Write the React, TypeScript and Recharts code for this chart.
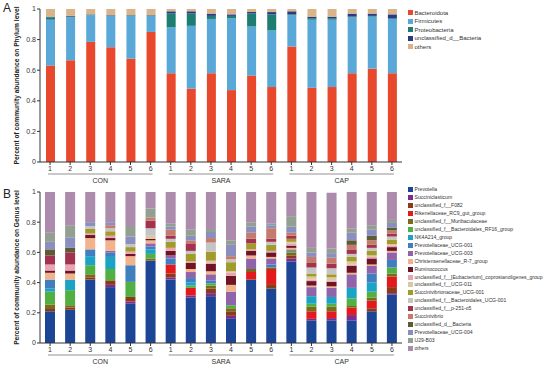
import React from 'react';
import { BarChart, Bar, XAxis, YAxis } from 'recharts';

// ---------- categories ----------
const groups = ['CON', 'SARA', 'CAP'];
const samples = ['1', '2', '3', '4', '5', '6'];
const yTicks = [0, 0.2, 0.4, 0.6, 0.8, 1];

// ---------- Panel A : phylum level ----------
const phylumNames = ['Bacteroidota', 'Firmicutes', 'Proteobacteria', 'unclassified_d__Bacteria', 'others'];
const phylumColors = ['#E8492D', '#5AA8D8', '#1E7D72', '#2B3A80', '#D9B48A'];
const bacteroidota = [0.63, 0.665, 0.785, 0.75, 0.675, 0.85, 0.58, 0.48, 0.58, 0.47, 0.565, 0.49, 0.755, 0.485, 0.49, 0.58, 0.61, 0.58];
const firmicutes = [0.3, 0.28, 0.175, 0.205, 0.28, 0.105, 0.3, 0.41, 0.355, 0.47, 0.32, 0.37, 0.205, 0.445, 0.44, 0.365, 0.34, 0.355];
const proteobacteria = [0.015, 0.005, 0.003, 0.003, 0.003, 0.003, 0.09, 0.08, 0.02, 0.015, 0.085, 0.105, 0.005, 0.01, 0.01, 0.005, 0.005, 0.005];
const unclassifiedPhylum = [0.005, 0.005, 0.002, 0.002, 0.002, 0.002, 0.015, 0.015, 0.015, 0.01, 0.01, 0.015, 0.02, 0.01, 0.01, 0.02, 0.015, 0.025];
const othersPhylum = [0.05, 0.045, 0.035, 0.04, 0.04, 0.04, 0.015, 0.015, 0.03, 0.035, 0.02, 0.02, 0.015, 0.05, 0.05, 0.03, 0.03, 0.035];
const phylumValues = [bacteroidota, firmicutes, proteobacteria, unclassifiedPhylum, othersPhylum];

// ---------- Panel B : genus level ----------
const genusNames = [
  'Prevotella',
  'Succiniclasticum',
  'unclassified_f__F082',
  'Rikenellaceae_RC9_gut_group',
  'unclassified_f__Muribaculaceae',
  'unclassified_f__Bacteroidales_RF16_group',
  'NK4A214_group',
  'Prevotellaceae_UCG-001',
  'Prevotellaceae_UCG-003',
  'Christensenellaceae_R-7_group',
  'Ruminococcus',
  'unclassified_f__[Eubacterium]_coprostanoligenes_group',
  'unclassified_f__UCG-011',
  'Succinivibrionaceae_UCG-001',
  'unclassified_f__Bacteroidales_UCG-001',
  'unclassified_f__p-251-o5',
  'Succinivibrio',
  'unclassified_d__Bacteria',
  'Prevotellaceae_UCG-004',
  'U29-B03',
  'others',
];
const genusColors = [
  '#1D4596', '#7B2D8E', '#8B3A1A', '#E31A1C', '#7A6A1E', '#52B043', '#1BA3C6',
  '#3F7FBF', '#8F64AA', '#F2B28C', '#6E1423', '#E8A3B5', '#D9C9A3', '#A39A2C',
  '#C4C4C4', '#A3324F', '#C47B6C', '#5E5A33', '#8A8FC0', '#93A091', '#AC8BAC',
];
const prevotella = [0.21, 0.22, 0.42, 0.37, 0.26, 0.545, 0.42, 0.3, 0.31, 0.16, 0.42, 0.36, 0.54, 0.15, 0.15, 0.15, 0.21, 0.32];
const succiniclasticum = [0, 0, 0, 0.015, 0.015, 0, 0.015, 0.015, 0.02, 0.02, 0, 0, 0.02, 0.01, 0.015, 0.035, 0, 0.01];
const f082 = [0.015, 0.015, 0.015, 0.03, 0.03, 0, 0.025, 0, 0.03, 0.03, 0, 0.03, 0.02, 0, 0, 0, 0.02, 0.04];
const rc9 = [0, 0, 0, 0, 0, 0, 0.06, 0.05, 0, 0, 0.05, 0.1, 0, 0.05, 0.045, 0.05, 0.05, 0.07];
const muribaculaceae = [0.03, 0.015, 0.02, 0, 0, 0.015, 0, 0, 0.02, 0.02, 0.02, 0.01, 0.02, 0.03, 0.03, 0.01, 0.02, 0.02];
const rf16 = [0.085, 0.1, 0.06, 0.075, 0.1, 0.03, 0, 0.015, 0.015, 0.02, 0, 0, 0.01, 0.02, 0.02, 0.05, 0.04, 0.04];
const nk4a214 = [0.02, 0.07, 0.06, 0.08, 0, 0.03, 0, 0.02, 0, 0, 0, 0, 0, 0.05, 0.045, 0.07, 0.06, 0];
const prevotellaceaeUcg001 = [0.06, 0, 0.045, 0.03, 0.11, 0.02, 0.04, 0.03, 0.02, 0, 0, 0.02, 0, 0, 0, 0, 0.06, 0.05];
const prevotellaceaeUcg003 = [0, 0, 0, 0.01, 0, 0.02, 0.02, 0.04, 0.04, 0.09, 0.07, 0.04, 0.01, 0.06, 0.06, 0.09, 0.05, 0.05];
const christensenellaceae = [0.045, 0.04, 0.075, 0.07, 0.06, 0.02, 0, 0.02, 0.02, 0.045, 0.02, 0.01, 0.01, 0.01, 0.01, 0.01, 0.01, 0.01];
const ruminococcus = [0.015, 0.02, 0.02, 0.015, 0.015, 0.01, 0.03, 0.04, 0.05, 0.06, 0.03, 0.03, 0.015, 0.03, 0.03, 0.045, 0.04, 0.025];
const eubacterium = [0.04, 0.04, 0.01, 0.015, 0.015, 0, 0.02, 0.01, 0.01, 0.02, 0.01, 0.01, 0.015, 0.01, 0.01, 0.01, 0.01, 0.01];
const ucg011 = [0, 0, 0, 0, 0, 0.02, 0, 0, 0.01, 0.01, 0, 0, 0.01, 0.02, 0.02, 0.02, 0.01, 0.01];
const succinivibrionaceae = [0, 0, 0.03, 0.03, 0.03, 0, 0.04, 0.05, 0.06, 0.06, 0.04, 0.04, 0.02, 0.02, 0.02, 0.03, 0.03, 0.03];
const bacteroidalesUcg001 = [0, 0, 0.02, 0.02, 0.02, 0.05, 0.02, 0.02, 0.06, 0.02, 0, 0.02, 0, 0.04, 0.04, 0.02, 0.02, 0.02];
const p251o5 = [0.06, 0.08, 0, 0, 0, 0.05, 0.02, 0.05, 0, 0, 0.03, 0.02, 0.02, 0.03, 0.03, 0.03, 0.02, 0.02];
const succinivibrio = [0, 0, 0, 0.02, 0, 0.02, 0.04, 0.02, 0.03, 0.02, 0.04, 0.07, 0.02, 0.04, 0.04, 0.03, 0.03, 0.02];
const unclassifiedGenus = [0.04, 0.03, 0, 0, 0, 0, 0, 0, 0, 0, 0, 0, 0, 0, 0, 0.03, 0.03, 0.02];
const prevotellaceaeUcg004 = [0.05, 0.07, 0.025, 0.02, 0.05, 0, 0.02, 0.03, 0.04, 0.075, 0.04, 0.02, 0.04, 0.03, 0.03, 0.05, 0.04, 0.03];
const u29b03 = [0.06, 0.08, 0, 0, 0.07, 0.06, 0.02, 0.04, 0.02, 0.03, 0.03, 0.01, 0.07, 0.03, 0.03, 0.03, 0.03, 0.02];
const othersGenus = [0.27, 0.22, 0.2, 0.2, 0.225, 0.11, 0.21, 0.25, 0.255, 0.32, 0.2, 0.21, 0.16, 0.37, 0.37, 0.24, 0.22, 0.185];
const genusValues = [
  prevotella, succiniclasticum, f082, rc9, muribaculaceae, rf16, nk4a214,
  prevotellaceaeUcg001, prevotellaceaeUcg003, christensenellaceae, ruminococcus,
  eubacterium, ucg011, succinivibrionaceae, bacteroidalesUcg001, p251o5,
  succinivibrio, unclassifiedGenus, prevotellaceaeUcg004, u29b03, othersGenus,
];

// ---------- table building ----------
const keys = groups.flatMap((g) => samples.map((s) => `${g}-${s}`));
function buildRows(names: string[], values: number[][]) {
  return keys.map((k, i) => {
    const row: any = { key: k };
    names.forEach((n, j) => {
      row[n] = values[j][i];
    });
    return row;
  });
}
const phylumData = buildRows(phylumNames, phylumValues);
const genusData = buildRows(genusNames, genusValues);

// ---------- layout ----------
const FONT = '"Liberation Sans", Arial, sans-serif';
const CHART_W = 550;
const MARGIN_RIGHT = 148;
const Y_AXIS_W = 40;
const BAND = (CHART_W - Y_AXIS_W - MARGIN_RIGHT) / keys.length;
const AXIS_COLOR = '#333';

function GroupTick(props: any) {
  const { x, y, payload } = props;
  const i = keys.indexOf(payload.value);
  const sample = samples[i % samples.length];
  const isFirst = i % samples.length === 0;
  return (
    <g>
      <text x={x} y={y} dy={3.5} textAnchor="middle" fontSize={7} fill="#333" fontFamily={FONT}>
        {sample}
      </text>
      {isFirst && (
        <g>
          <line x1={x - 2} x2={x + 5 * BAND + 2} y1={y + 7} y2={y + 7} stroke="#777" strokeWidth={0.8} />
          <text x={x + 2.5 * BAND} y={y + 16} textAnchor="middle" fontSize={7} fill="#333" fontFamily={FONT}>
            {groups[Math.floor(i / samples.length)]}
          </text>
        </g>
      )}
    </g>
  );
}

function AxisTitle(props: any) {
  const { viewBox, text } = props;
  const cx = 16;
  const cy = viewBox.y + viewBox.height / 2;
  return (
    <text
      x={cx}
      y={cy}
      transform={`rotate(-90, ${cx}, ${cy})`}
      textAnchor="middle"
      dominantBaseline="central"
      fontSize={6.6}
      fontWeight="bold"
      fill="#222"
      fontFamily={FONT}
    >
      {text}
    </text>
  );
}

function LegendBox(props: { names: string[]; colors: string[]; left: number; top: number; step: number; fontSize: number }) {
  const { names, colors, left, top, step, fontSize } = props;
  return (
    <div style={{ position: 'absolute', left, top, fontFamily: FONT }}>
      {names.map((n, i) => (
        <div
          key={n}
          style={{
            position: 'absolute',
            left: 0,
            top: i * step,
            height: step,
            display: 'flex',
            alignItems: 'center',
            whiteSpace: 'nowrap',
            fontSize,
            color: '#333',
            lineHeight: 1,
          }}
        >
          <span style={{ display: 'inline-block', width: 5, height: 5, background: colors[i], marginRight: 1.5, flexShrink: 0 }} />
          <span>{n}</span>
        </div>
      ))}
    </div>
  );
}

function Panel(props: {
  data: any[];
  names: string[];
  colors: string[];
  height: number;
  top: number;
  xAxisHeight: number;
  title: string;
  barSize: number;
}) {
  const { data, names, colors, height, top, xAxisHeight, title, barSize } = props;
  return (
    <BarChart
      width={CHART_W}
      height={height}
      data={data}
      margin={{ top, right: MARGIN_RIGHT, bottom: 0, left: 0 }}
      barCategoryGap={0}
    >
      <XAxis
        dataKey="key"
        interval={0}
        height={xAxisHeight}
        tick={<GroupTick />}
        tickSize={3}
        tickMargin={2}
        stroke={AXIS_COLOR}
        tickLine={{ stroke: AXIS_COLOR }}
      />
      <YAxis
        width={Y_AXIS_W}
        domain={[0, 1]}
        ticks={yTicks}
        tickFormatter={(v: number) => String(v)}
        tick={{ fontSize: 7, fill: '#333', fontFamily: FONT }}
        tickSize={3}
        tickMargin={1}
        stroke={AXIS_COLOR}
        allowDataOverflow
        label={<AxisTitle text={title} />}
      />
      {names.map((n, i) => (
        <Bar key={n} dataKey={n} stackId="s" fill={colors[i]} barSize={barSize} isAnimationActive={false} />
      ))}
    </BarChart>
  );
}

export default function App() {
  return (
    <div style={{ position: 'fixed', left: 0, top: 0, width: 550, height: 367, background: '#fff', overflow: 'hidden' }}>
      <div style={{ position: 'absolute', left: 0, top: 0, width: 550, height: 184, overflow: 'hidden' }}>
        <Panel
          data={phylumData}
          names={phylumNames}
          colors={phylumColors}
          height={184}
          top={9}
          xAxisHeight={22}
          title="Percent of community abundance on Phylum level"
          barSize={9}
        />
        <LegendBox names={phylumNames} colors={phylumColors} left={408} top={8.5} step={8.5} fontSize={6} />
        <div style={{ position: 'absolute', left: 3, top: 1, fontFamily: FONT, fontSize: 12, color: '#222' }}>A</div>
      </div>
      <div style={{ position: 'absolute', left: 0, top: 184, width: 550, height: 183, overflow: 'hidden' }}>
        <Panel
          data={genusData}
          names={genusNames}
          colors={genusColors}
          height={183}
          top={8}
          xAxisHeight={24}
          title="Percent of community abundance on Genus level"
          barSize={10}
        />
        <LegendBox names={genusNames} colors={genusColors} left={408} top={2} step={7.92} fontSize={5.1} />
        <div style={{ position: 'absolute', left: 3, top: 3, fontFamily: FONT, fontSize: 12, color: '#222' }}>B</div>
      </div>
    </div>
  );
}
